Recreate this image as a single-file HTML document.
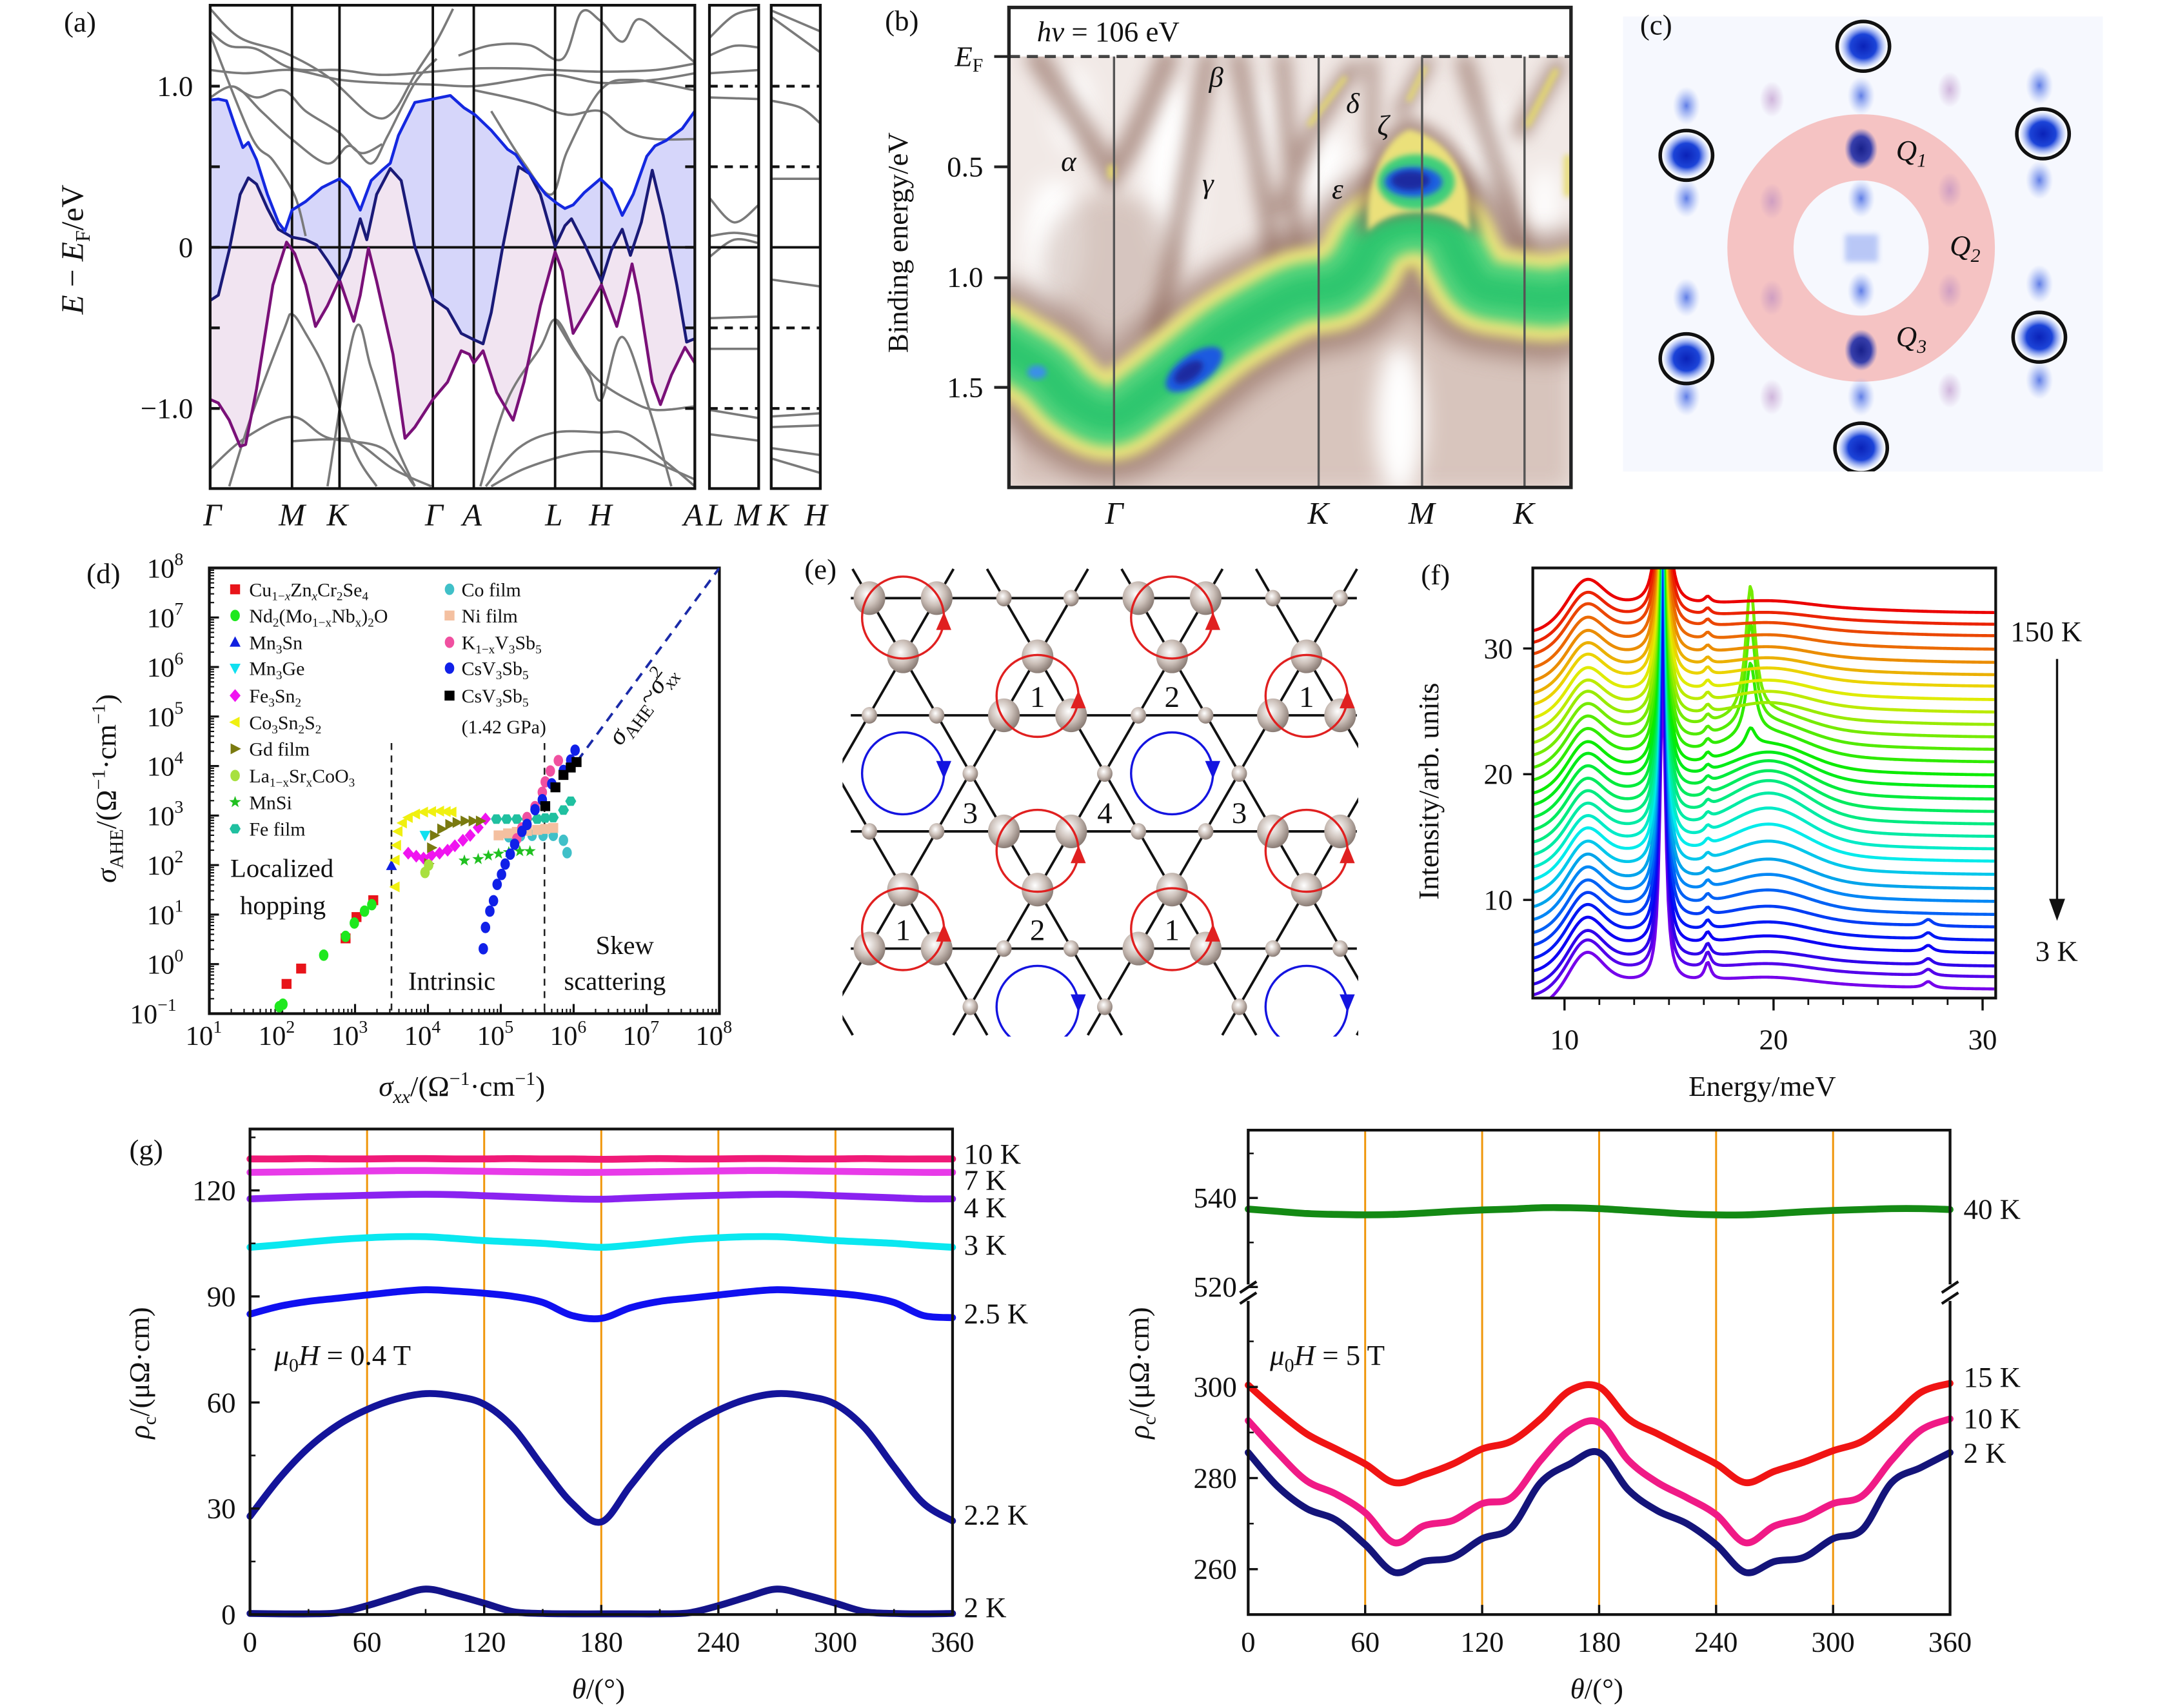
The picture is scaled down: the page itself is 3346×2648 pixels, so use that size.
<!DOCTYPE html>
<html><head><meta charset="utf-8"><title>Kagome figure</title>
<style>
html,body{margin:0;padding:0;background:#fff}
svg{display:block}
text{font-family:"Liberation Serif","DejaVu Serif",serif;fill:#111}
.it{font-style:italic}
</style></head>
<body>
<svg id="fig" width="3346" height="2648" viewBox="0 0 1565 1239" preserveAspectRatio="none" xmlns="http://www.w3.org/2000/svg">
<defs>
 <radialGradient id="sph" cx="0.42" cy="0.38" r="0.62"><stop offset="0" stop-color="#ffffff"/><stop offset="0.55" stop-color="#cbbfb8"/><stop offset="1" stop-color="#8a7c75"/></radialGradient>
 <radialGradient id="bdot"><stop offset="0" stop-color="#0a22b8"/><stop offset="0.55" stop-color="#1c44d8"/><stop offset="1" stop-color="#6d8ef0" stop-opacity="0"/></radialGradient>
 <radialGradient id="sdot"><stop offset="0" stop-color="#3a5fe0" stop-opacity="0.8"/><stop offset="0.5" stop-color="#6a88ec" stop-opacity="0.45"/><stop offset="1" stop-color="#9ab0f4" stop-opacity="0"/></radialGradient>
 <radialGradient id="ddot"><stop offset="0" stop-color="#18208a"/><stop offset="0.6" stop-color="#2230a8" stop-opacity="0.9"/><stop offset="1" stop-color="#4050c0" stop-opacity="0"/></radialGradient>
 <radialGradient id="pdot"><stop offset="0" stop-color="#b080c0" stop-opacity="0.55"/><stop offset="1" stop-color="#b080c0" stop-opacity="0"/></radialGradient>
 <filter id="bl2" x="-20%" y="-20%" width="140%" height="140%"><feGaussianBlur stdDeviation="2"/></filter>
 <filter id="bl4" x="-30%" y="-30%" width="160%" height="160%"><feGaussianBlur stdDeviation="4"/></filter>
 <filter id="bl6" x="-40%" y="-40%" width="180%" height="180%"><feGaussianBlur stdDeviation="6"/></filter>
 <filter id="bl8" x="-50%" y="-50%" width="200%" height="200%"><feGaussianBlur stdDeviation="8"/></filter>
 <clipPath id="clipA"><rect x="152.4" y="3.8" width="351.5" height="350.6"/></clipPath>
 <clipPath id="clipAL"><rect x="514.5" y="3.8" width="35.7" height="350.6"/></clipPath>
 <clipPath id="clipAR"><rect x="559.3" y="3.8" width="35.6" height="350.6"/></clipPath>
 <clipPath id="clipB"><rect x="731.7" y="5.4" width="407.6" height="348.2"/></clipPath>
 <clipPath id="clipBi"><rect x="731.7" y="41" width="407.6" height="312.6"/></clipPath>
 <clipPath id="clipC"><rect x="1177" y="12" width="348" height="330"/></clipPath>
 <clipPath id="clipD"><rect x="151.8" y="412" width="369.9" height="323.3"/></clipPath>
 <clipPath id="clipE"><rect x="611" y="412" width="374" height="340"/></clipPath>
 <clipPath id="clipF"><rect x="1111.6" y="412" width="335.7" height="312"/></clipPath>
</defs>

<!-- ================= PANEL A ================= -->
<g id="panel-a">
 <text x="58" y="23" font-size="21" text-anchor="middle">(a)</text>
 <g id="a-plot" clip-path="url(#clipA)"></g>
 <g id="a-side1" clip-path="url(#clipAL)"></g>
 <g id="a-side2" clip-path="url(#clipAR)"></g>
 <g id="a-axes"></g>
 <text transform="translate(60,181) rotate(-90)" font-size="23" text-anchor="middle"><tspan class="it">E</tspan> − <tspan class="it">E</tspan><tspan font-size="15" dy="5">F</tspan><tspan dy="-5">/eV</tspan></text>
</g>

<!-- ================= PANEL B ================= -->
<g id="panel-b">
 <text x="654" y="22" font-size="21" text-anchor="middle">(b)</text>
 <rect x="731.7" y="5.4" width="407.6" height="348.2" fill="#fff"/>
 <g clip-path="url(#clipBi)">
  <rect x="731" y="41" width="410" height="315" fill="#f1e9e6"/>
  <path d="M731,250 L760,265 L806,300 L860,262 L914,226 L968,208 L1000,175 L1030,162 L1060,189 L1100,213 L1140,213 L1140,356 L731,356 Z" fill="#cfb8af" opacity="0.75" filter="url(#bl8)"/>
  <g filter="url(#bl8)" fill="#fff">
   <ellipse cx="850" cy="125" rx="20" ry="65"/>
   <ellipse cx="765" cy="175" rx="22" ry="45"/>
   <ellipse cx="778" cy="80" rx="14" ry="30"/>
   <ellipse cx="1015" cy="305" rx="18" ry="55"/>
   <ellipse cx="962" cy="130" rx="16" ry="40"/>
   <ellipse cx="915" cy="95" rx="10" ry="35"/>
   <ellipse cx="1080" cy="110" rx="14" ry="40"/>
   <ellipse cx="1120" cy="150" rx="10" ry="30"/>
  </g>
  <g fill="none" stroke="#8a6456" stroke-linecap="round" filter="url(#bl6)" opacity="0.6">
   <path d="M752,42 Q790,100 806,127 Q825,100 846.5,42" stroke-width="16"/>
   <path d="M876,42 Q860,140 838.4,243" stroke-width="13"/>
   <path d="M897.7,42 Q915,130 930,221" stroke-width="13"/>
   <path d="M930,42 Q936,120 941,189" stroke-width="11"/>
   <path d="M981,50 Q950,90 930,150" stroke-width="13"/>
   <path d="M995,45 L995,108" stroke-width="9"/>
   <path d="M1035,45 L1016,81" stroke-width="11"/>
   <path d="M1062,45 Q1085,120 1108,194" stroke-width="13"/>
   <path d="M1130,48 L1103,94" stroke-width="13"/>
  </g>
  <ellipse cx="806" cy="195" rx="50" ry="55" fill="#9a7466" opacity="0.3" filter="url(#bl8)"/>
  <ellipse cx="1022" cy="183" rx="20" ry="12" fill="#8a6456" opacity="0.7" filter="url(#bl4)"/>
  <g fill="none" stroke="#e6dc6c" stroke-linecap="round" filter="url(#bl2)" opacity="0.85">
   <path d="M806,122 L806,127" stroke-width="6"/>
   <path d="M975,57 L950,90" stroke-width="4"/>
   <path d="M1033,50 L1022,72" stroke-width="4"/>
   <path d="M1128,52 L1108,90" stroke-width="5"/>
   <path d="M1137,115 L1137,140" stroke-width="6"/>
  </g>
  <g id="b-band" fill="none" stroke-linecap="round" stroke-linejoin="round"></g>
  <g id="b-dome"></g>
 </g>
 <line x1="731.7" y1="41" x2="1139.3" y2="41" stroke="#444" stroke-width="2.2" stroke-dasharray="8,5"/>
 <g stroke="#555" stroke-width="1.6">
  <line x1="807.9" y1="41" x2="807.9" y2="353.6"/>
  <line x1="956.3" y1="41" x2="956.3" y2="353.6"/>
  <line x1="1031.3" y1="41" x2="1031.3" y2="353.6"/>
  <line x1="1105.6" y1="41" x2="1105.6" y2="353.6"/>
 </g>
 <rect x="731.7" y="5.4" width="407.6" height="348.2" fill="none" stroke="#222" stroke-width="2.5"/>
 <g font-size="21">
  <text x="752" y="30"><tspan class="it">hν</tspan> = 106 eV</text>
  <text x="775" y="124" class="it" text-anchor="middle">α</text>
  <text x="882" y="63" class="it" text-anchor="middle">β</text>
  <text x="876" y="140" class="it" text-anchor="middle">γ</text>
  <text x="981" y="82" class="it" text-anchor="middle">δ</text>
  <text x="1003" y="98" class="it" text-anchor="middle">ζ</text>
  <text x="970" y="144" class="it" text-anchor="middle">ε</text>
 </g>
 <g stroke="#222" stroke-width="2">
  <line x1="721" y1="41" x2="731.7" y2="41"/><line x1="721" y1="121" x2="731.7" y2="121"/>
  <line x1="721" y1="201.5" x2="731.7" y2="201.5"/><line x1="721" y1="281" x2="731.7" y2="281"/>
 </g>
 <g font-size="21" text-anchor="end">
  <text x="713" y="48"><tspan class="it">E</tspan><tspan font-size="14" dy="4">F</tspan></text>
  <text x="713" y="128">0.5</text>
  <text x="713" y="208">1.0</text>
  <text x="713" y="288">1.5</text>
 </g>
 <text transform="translate(658,176) rotate(-90)" font-size="21" text-anchor="middle">Binding energy/eV</text>
 <g font-size="23" class="it" text-anchor="middle">
  <text x="808" y="380" class="it">Γ</text>
  <text x="956" y="380" class="it">K</text>
  <text x="1031" y="380" class="it">M</text>
  <text x="1105" y="380" class="it">K</text>
 </g>
</g>

<!-- ================= PANEL C ================= -->
<g id="panel-c">
 <rect x="1177" y="12" width="348" height="330" fill="#f6f8fe"/>
 <g clip-path="url(#clipC)">
  <circle cx="1349.7" cy="179.9" r="73" fill="none" stroke="#f5bcbc" stroke-width="48" opacity="0.9"/>
  <g id="c-dots"></g>
 </g>
 <text x="1201" y="25" font-size="21" text-anchor="middle">(c)</text>
 <g font-size="21" class="it">
  <text x="1375" y="116" class="it">Q<tspan font-size="14" dy="5">1</tspan></text>
  <text x="1414" y="185" class="it">Q<tspan font-size="14" dy="5">2</tspan></text>
  <text x="1375" y="251" class="it">Q<tspan font-size="14" dy="5">3</tspan></text>
 </g>
</g>

<!-- ================= PANEL D ================= -->
<g id="panel-d">
 <text x="75" y="423" font-size="21" text-anchor="middle">(d)</text>
 <g id="d-axes"></g>
 <g id="d-plot" clip-path="url(#clipD)"></g>
 <g id="d-legend"></g>
 <g font-size="19">
  <text x="167" y="636">Localized</text>
  <text x="174" y="663">hopping</text>
  <text x="296" y="718">Intrinsic</text>
  <text x="432" y="692">Skew</text>
  <text x="409" y="718">scattering</text>
 </g>
 <text transform="translate(470,515) rotate(-53)" font-size="19" text-anchor="middle"><tspan class="it">σ</tspan><tspan font-size="13" dy="4">AHE</tspan><tspan dy="-4">~</tspan><tspan class="it">σ</tspan><tspan font-size="13" dy="-8">2</tspan><tspan font-size="13" dx="-7" dy="13" class="it">xx</tspan></text>
 <text transform="translate(84,572) rotate(-90)" font-size="21" text-anchor="middle"><tspan class="it">σ</tspan><tspan font-size="14" dy="5">AHE</tspan><tspan dy="-5">/(Ω</tspan><tspan font-size="14" dy="-8">−1</tspan><tspan dy="8">·cm</tspan><tspan font-size="14" dy="-8">−1</tspan><tspan dy="8">)</tspan></text>
 <text x="335" y="795" font-size="21" text-anchor="middle"><tspan class="it">σ</tspan><tspan font-size="14" dy="5" class="it">xx</tspan><tspan dy="-5">/(Ω</tspan><tspan font-size="14" dy="-8">−1</tspan><tspan dy="8">·cm</tspan><tspan font-size="14" dy="-8">−1</tspan><tspan dy="8">)</tspan></text>
</g>

<!-- ================= PANEL E ================= -->
<g id="panel-e">
 <text x="595" y="420" font-size="21" text-anchor="middle">(e)</text>
 <g id="e-lat" clip-path="url(#clipE)"></g>
</g>

<!-- ================= PANEL F ================= -->
<g id="panel-f">
 <text x="1041" y="424" font-size="21" text-anchor="middle">(f)</text>
 <g id="f-plot" clip-path="url(#clipF)"></g>
 <g id="f-axes"></g>
 <text x="1458" y="465" font-size="21">150 K</text>
 <text x="1476" y="697" font-size="21">3 K</text>
 <line x1="1491.8" y1="478" x2="1491.8" y2="660" stroke="#111" stroke-width="1.6"/>
 <polygon points="1486,652 1497.6,652 1491.8,668" fill="#111"/>
 <text transform="translate(1043,574) rotate(-90)" font-size="21" text-anchor="middle">Intensity/arb. units</text>
 <text x="1278" y="795" font-size="21" text-anchor="middle">Energy/meV</text>
</g>

<!-- ================= PANEL G ================= -->
<g id="panel-g">
 <text x="106" y="841" font-size="21" text-anchor="middle">(g)</text>
 <g id="g-left"></g>
 <g id="g-right"></g>
 <text x="199" y="990" font-size="21"><tspan class="it">μ</tspan><tspan font-size="14" dy="5">0</tspan><tspan class="it" dy="-5">H</tspan> = 0.4 T</text>
 <text x="921" y="990" font-size="21"><tspan class="it">μ</tspan><tspan font-size="14" dy="5">0</tspan><tspan class="it" dy="-5">H</tspan> = 5 T</text>
 <text transform="translate(108,996) rotate(-90)" font-size="21" text-anchor="middle"><tspan class="it">ρ</tspan><tspan font-size="14" dy="5">c</tspan><tspan dy="-5">/(μΩ·cm)</tspan></text>
 <text transform="translate(833,996) rotate(-90)" font-size="21" text-anchor="middle"><tspan class="it">ρ</tspan><tspan font-size="14" dy="5">c</tspan><tspan dy="-5">/(μΩ·cm)</tspan></text>
 <text x="434" y="1232" font-size="21" text-anchor="middle"><tspan class="it">θ</tspan>/(°)</text>
 <text x="1158" y="1232" font-size="21" text-anchor="middle"><tspan class="it">θ</tspan>/(°)</text>
</g>
</svg>

<script>
// ================= DATA =================
// Panel (a): k-path coordinate (0..888 along Γ-M-K-Γ-A-L-H-A), energy in eV
const aBlueK = [0,15,30,45,60,70,85,105,125,137,150,175,205,237,255,275,295,315,330,345,375,408,440,465,485,515,545,560,575,595,615,635,650,665,685,715,735,755,775,800,815,835,865,888];
const aBlueE = [0.914,0.92,0.909,0.759,0.619,0.651,0.543,0.328,0.155,0.101,0.231,0.284,0.371,0.425,0.371,0.231,0.414,0.478,0.522,0.694,0.899,0.92,0.942,0.866,0.823,0.726,0.608,0.575,0.5,0.414,0.328,0.274,0.241,0.263,0.338,0.425,0.36,0.198,0.328,0.565,0.629,0.662,0.737,0.845];
const aNavyK = [0,15,35,55,70,85,105,125,150,175,195,215,237,255,275,287,305,330,350,375,408,435,460,483,500,515,535,565,585,605,632,650,662,685,717,735,755,770,790,810,830,855,873,888];
const aNavyE = [-0.33,-0.297,-0.017,0.328,0.431,0.392,0.241,0.112,0.063,0.047,0.015,-0.082,-0.2,-0.06,0.177,0.047,0.328,0.489,0.414,0.004,-0.319,-0.384,-0.534,-0.573,-0.599,-0.405,-0.017,0.5,0.457,0.328,0.004,0.134,0.177,0.026,-0.211,-0.017,0.112,-0.05,0.155,0.478,0.198,-0.233,-0.588,-0.567];
const aPurpK = [0,15,35,55,65,85,115,140,155,175,193,215,237,263,275,290,305,335,357,375,408,435,460,475,483,500,525,555,575,605,632,645,665,695,717,745,760,773,785,810,825,845,870,888];
const aPurpE = [-0.944,-0.966,-1.073,-1.235,-1.224,-0.879,-0.233,0.032,-0.039,-0.233,-0.491,-0.362,-0.2,-0.459,-0.297,-0.006,-0.211,-0.664,-1.185,-1.116,-0.944,-0.836,-0.642,-0.664,-0.718,-0.642,-0.901,-1.073,-0.836,-0.362,-0.028,-0.147,-0.534,-0.362,-0.233,-0.491,-0.297,-0.103,-0.297,-0.836,-0.976,-0.793,-0.621,-0.718];
const aHighSymK = [150,237,408,483,632,717];
const aGrayBands = [
 [[0,1.34],[35,1.25],[85,1.23],[150,1.11],[237,1.1],[315,1.07],[408,1.09],[483,1.11],[565,1.11],[632,1.1],[717,1.09],[815,1.1],[888,1.14]],
 [[0,1.1],[65,1.08],[150,1.1],[237,1.04],[315,1.02],[408,1.01],[483,1.0],[565,1.04],[632,1.07],[717,1.02],[815,1.04],[888,1.08]],
 [[0,1.48],[55,1.3],[135,1.21],[215,1.06],[295,0.82],[335,0.84],[375,1.07],[415,1.28],[445,1.48]],
 [[0,0.93],[45,0.996],[95,0.84],[150,0.67],[215,0.52],[255,0.63],[295,0.52],[325,0.69],[375,1.02],[415,1.17]],
 [[0,1.32],[75,0.69],[115,0.54],[155,0.32],[175,0.07]],
 [[45,0.996],[85,0.93],[135,0.974],[175,0.845],[235,0.716],[275,0.586],[315,0.64]],
 [[455,1.19],[515,1.254],[585,1.254],[645,1.168],[680,1.459],[715,1.405],[755,1.276],[785,1.416],[835,1.297],[888,1.147]],
 [[485,0.974],[545,0.931],[595,0.888],[655,0.823],[715,0.845],[765,0.716],[815,0.672],[888,0.672]],
 [[515,0.845],[575,0.522],[625,0.328],[655,0.603],[715,0.974],[775,1.039],[888,0.974]],
 [[35,-1.483],[75,-1.052],[135,-0.513],[150,-0.416],[175,-0.534],[215,-0.793],[265,-1.267],[305,-1.483]],
 [[215,-1.483],[265,-0.513],[295,-0.75],[335,-1.181],[375,-1.483]],
 [[0,-1.375],[65,-1.181],[150,-1.052],[215,-1.181],[315,-1.246],[375,-1.483]],
 [[150,-1.203],[215,-1.192],[265,-1.203],[335,-1.375],[405,-1.483]],
 [[495,-1.483],[545,-0.944],[605,-0.621],[632,-0.448],[665,-0.621],[695,-0.793],[717,-0.944],[755,-0.556],[805,-1.009],[845,-1.483]],
 [[505,-1.483],[565,-1.246],[632,-1.149],[715,-1.149],[765,-1.16],[835,-1.332],[888,-1.483]],
 [[515,-1.483],[575,-1.375],[655,-1.289],[715,-1.267],[795,-1.311],[888,-1.44]],
 [[632,-0.448],[675,-0.685],[715,-0.836],[765,-0.944],[815,-1.009],[888,-0.987]]
];
const aSide1 = [[[0,1.3],[0.5,1.44],[1,1.48]],[[0,1.19],[0.5,1.25],[1,1.24]],[[0,1.08],[1,1.1]],[[0,0.93],[1,0.92]],[[0,0.306],[0.5,0.155],[1,0.263]],[[0,0.069],[0.5,0.09],[1,0.069]],[[0,-0.06],[0.5,0.047],[1,0.026]],[[0,-0.44],[1,-0.43]],[[0,-0.63],[1,-0.63]],[[0,-1.009],[1,-1.06]],[[0,-1.16],[1,-1.2]]];
const aSide2 = [[[0,1.47],[1,1.34]],[[0,1.43],[1,1.21]],[[0,0.91],[0.6,0.866],[1,0.769]],[[0,0.425],[1,0.425]],[[0,-0.2],[1,-0.243]],[[0,-1.05],[1,-1.03]],[[0,-1.116],[1,-1.105]],[[0,-1.246],[1,-1.289]],[[0,-1.31],[1,-1.4]]];

// Panel (d): log10 values
const dSeries = [
 {name:'Cu1-xZnxCr2Se4', shape:'square', color:'#e8141a', lx:[2.06,2.26,2.87,3.02,3.25], ly:[-0.4,-0.09,0.52,0.95,1.29]},
 {name:'Nd2(Mo1-xNbx)2O', shape:'circle', color:'#1ee81e', lx:[1.96,2.01,2.57,2.87,2.99,3.13,3.23], ly:[-0.86,-0.81,0.18,0.56,0.83,1.07,1.2]},
 {name:'Mn3Sn', shape:'tri', color:'#1020e0', lx:[3.5], ly:[1.99]},
 {name:'Mn3Ge', shape:'dtri', color:'#10e0f0', lx:[3.96], ly:[2.6]},
 {name:'Fe3Sn2', shape:'diamond', color:'#f014f0', lx:[3.73,3.84,3.94,4.05,4.16,4.27,4.37,4.48,4.58,4.69,4.79], ly:[2.24,2.18,2.14,2.2,2.24,2.3,2.39,2.5,2.6,2.76,2.93]},
 {name:'Co3Sn2S2', shape:'ltri', color:'#f0f010', lx:[3.55,3.55,3.57,3.59,3.65,3.73,3.83,3.94,4.05,4.16,4.25,4.33], ly:[1.56,2.1,2.4,2.68,2.85,2.96,3.03,3.07,3.08,3.09,3.08,3.07]},
 {name:'Gd film', shape:'rtri', color:'#7a7a10', lx:[4.01,4.05,4.09,4.19,4.3,4.4,4.51,4.62,4.72], ly:[2.03,2.35,2.6,2.73,2.82,2.86,2.89,2.89,2.89]},
 {name:'La1-xSrxCoO3', shape:'circle', color:'#a8e040', lx:[3.96,4.01], ly:[1.85,2.0]},
 {name:'MnSi', shape:'star', color:'#20c020', lx:[4.5,4.69,4.83,4.97,5.11,5.26,5.4], ly:[2.09,2.12,2.19,2.23,2.26,2.28,2.28]},
 {name:'Fe film', shape:'hex', color:'#20c0a0', lx:[4.94,5.08,5.22,5.36,5.5,5.61,5.72,5.86,5.96], ly:[2.93,2.93,2.93,2.93,2.93,2.95,2.96,3.11,3.29]},
 {name:'Co film', shape:'circle', color:'#40c0c8', lx:[5.11,5.27,5.43,5.58,5.72,5.86,5.91], ly:[2.57,2.59,2.6,2.6,2.6,2.5,2.25]},
 {name:'Ni film', shape:'square', color:'#f4c0a0', lx:[4.97,5.1,5.22,5.36,5.5,5.61,5.72], ly:[2.6,2.64,2.67,2.69,2.71,2.73,2.75]},
 {name:'K1-xV3Sb5', shape:'circle', color:'#f050a0', lx:[5.22,5.29,5.36,5.47,5.57,5.61,5.68,5.79], ly:[2.53,2.75,2.96,3.18,3.47,3.68,3.9,4.11]},
 {name:'CsV3Sb5', shape:'circle', color:'#1020e8', lx:[4.76,4.79,4.85,4.9,4.95,5.01,5.06,5.13,5.19,5.29,5.36,5.47,5.57,5.7,5.86,5.96,6.02], ly:[0.31,0.74,1.07,1.28,1.61,1.81,2.02,2.22,2.42,2.68,2.82,3.12,3.32,3.64,3.91,4.12,4.32]},
 {name:'CsV3Sb5 (1.42 GPa)', shape:'square', color:'#000000', lx:[5.61,5.75,5.86,5.96,6.04], ly:[3.19,3.57,3.82,3.97,4.08]}
];
const dXTicks = [1,2,3,4,5,6,7,8];
const dYTicks = [-1,0,1,2,3,4,5,6,7,8];
const dRegimeBounds = [3.5,5.6];

// Panel (f): one entry per temperature curve, bottom (3 K) to top (150 K)
const fRight = [3.14,4.12,4.97,6.02,7.03,8.08,9.07,10.11,11.13,12.26,13.31,14.29,15.28,16.27,17.26,18.25,19.24,20.17,21.21,22.2,23.19,24.18,25.17,26.16,27.23,28.14,29.12,30.17,31.24,32.15,33.08];
const fPeak11 = [2.6,2.6,2.5,2.5,2.5,2.4,2.4,2.4,2.4,2.3,2.3,2.3,2.3,2.3,2.3,2.3,2.3,2.3,2.3,2.3,2.3,2.3,2.2,2.2,2.2,2.2,2.2,2.2,2.2,2.2,2.3];
const fPeak147 = [24,26,28,30,32,34,36,36,36,36,36,36,36,36,36,36,36,36,36,36,36,36,36,36,36,36,36,36,36,36,36];
const fPeak17 = [1.4,1.2,1.0,0.8,0.7,0.6,0.6,0.6,0.5,0.5,0.5,0.5,0.5,0.5,0.5,0.5,0.5,0.6,0.6,0.6,0.6,0.6,0.6,0.6,0.6,0.5,0.5,0.5,0.5,0.5,0.5];
const fHump20 = [0.5,0.6,0.7,0.9,1.0,1.2,1.5,1.7,1.9,2.2,2.5,2.8,3.0,3.0,2.8,2.6,2.3,2.0,1.8,1.6,1.4,1.3,1.2,1.1,1.0,0.9,0.8,0.7,0.6,0.5,0.5];
const fSharp19 = [0,0,0,0,0,0,0,0,0,0,0,0,0,0,0,0,0,1.5,5.8,8.2,10.3,0,0,0,0,0,0,0,0,0,0];
const fXTicks = [10,20,30];
const fYTicks = [10,20,30];

// Panel (g) left, 0.4 T
const gAngles = [0,15,30,45,60,75,90,105,120,135,150,165,180,195,210,225,240,255,270,285,300,315,330,345,360];
const gL10K = [128.9,128.9,129,128.9,128.9,129,129,128.9,128.9,129,128.9,128.9,128.8,128.9,129,128.9,128.9,129,129,128.9,128.9,129,128.9,128.9,128.9];
const gL7K  = [125.1,125.2,125.3,125.4,125.5,125.6,125.6,125.5,125.4,125.3,125.2,125.1,125.1,125.2,125.3,125.4,125.5,125.6,125.6,125.5,125.4,125.3,125.2,125.1,125.1];
const gL4K  = [117.6,117.9,118.2,118.4,118.6,118.8,118.9,118.8,118.5,118.2,117.9,117.6,117.5,117.8,118.1,118.4,118.6,118.8,118.9,118.8,118.5,118.2,117.9,117.6,117.6];
const gL3K  = [103.9,104.6,105.4,106.1,106.6,106.9,106.9,106.4,105.8,105.4,105,104.4,103.9,104.5,105.3,106.1,106.6,106.9,106.9,106.4,105.8,105.4,105,104.4,103.9];
const gL25K = [85,87.2,88.6,89.5,90.4,91.3,91.9,91.5,90.9,90,88.3,84.6,83.8,86.8,88.6,89.5,90.4,91.3,91.9,91.5,90.9,90,88.3,84.6,84];
const gL22K = [27.8,38.5,47.2,53.6,58,61,62.5,61.8,59.5,52.8,41.8,31.5,26.2,36.5,46.5,53.2,57.8,61,62.5,61.8,59.5,52.8,41.8,31.5,26.5];
const gL2K  = [0.3,0.2,0.2,0.5,2.5,5,7.2,5.5,3.2,0.8,0.3,0.2,0.2,0.2,0.2,0.5,2.5,5,7.2,5.5,3.2,0.8,0.3,0.2,0.3];
const gLTempLabels = ['10 K','7 K','4 K','3 K','2.5 K','2.2 K','2 K'];
const gLYTicks = [0,30,60,90,120];
const gXTicks = [0,60,120,180,240,300,360];
// Panel (g) right, 5 T
const gR40K = [537.5,537,536.5,536.3,536.2,536.3,536.6,537,537.3,537.5,537.8,537.8,537.6,537.2,536.8,536.4,536.2,536.2,536.5,536.9,537.2,537.4,537.6,537.6,537.4];
const gR15K = [300.4,294.7,289.7,286.4,283.1,279,280.7,283.1,286.4,288.1,293,299.2,300,293,289.7,286.4,283.1,279,281.5,283.5,286,288.1,293,298.8,300.8];
const gR10K = [292.6,285.6,279.4,276.5,272.4,265.8,269.5,270.7,274.4,275.7,283.9,290.5,292.2,283.9,279,275.7,272,265.8,269.5,271.2,274.4,276.1,283.9,290.5,293];
const gR2K  = [285.6,278.2,273.3,270.8,265.4,259.3,261.7,262.6,266.7,269.1,279,283.1,285.6,277.4,272.8,270,265.4,259.3,261.7,262.6,266.7,268.7,279,282.3,285.6];
const gRUpperTicks = [520,540];
const gRLowerTicks = [260,280,300];

// ================= HELPERS =================
const NS = 'http://www.w3.org/2000/svg';
function mk(tag, attrs, parent) {
  const e = document.createElementNS(NS, tag);
  for (const k in attrs) e.setAttribute(k, attrs[k]);
  parent.appendChild(e);
  return e;
}
function ptsStr(p) { return p.map(q => q[0].toFixed(2) + ',' + q[1].toFixed(2)).join(' '); }
function smooth(p) {
  if (p.length < 2) return '';
  let d = 'M' + p[0][0].toFixed(2) + ',' + p[0][1].toFixed(2);
  for (let i = 0; i < p.length - 1; i++) {
    const p0 = p[i - 1] || p[i], p1 = p[i], p2 = p[i + 1], p3 = p[i + 2] || p2;
    const c1 = [p1[0] + (p2[0] - p0[0]) / 6, p1[1] + (p2[1] - p0[1]) / 6];
    const c2 = [p2[0] - (p3[0] - p1[0]) / 6, p2[1] - (p3[1] - p1[1]) / 6];
    d += ' C' + c1[0].toFixed(2) + ',' + c1[1].toFixed(2) + ' ' + c2[0].toFixed(2) + ',' + c2[1].toFixed(2) + ' ' + p2[0].toFixed(2) + ',' + p2[1].toFixed(2);
  }
  return d;
}
const $ = id => document.getElementById(id);

// ================= PANEL A =================
(function () {
  const x0 = 152.4, x1 = 503.9, yTop = 3.8, yBot = 354.4;
  const xA = k => x0 + k * (x1 - x0) / 888;
  const yA = E => 179.4 - E * 116.9;
  const g = $('a-plot');
  const blue = aBlueK.map((k, i) => [xA(k), yA(aBlueE[i])]);
  const navy = aNavyK.map((k, i) => [xA(k), yA(aNavyE[i])]);
  const purp = aPurpK.map((k, i) => [xA(k), yA(aPurpE[i])]);
  let f = mk('polygon', {points: ptsStr(blue.concat(navy.slice().reverse())), fill: '#d6d6fa'}, g);
  
  
  f = mk('polygon', {points: ptsStr(navy.concat(purp.slice().reverse())), fill: '#f1e4f1'}, g);
  
  
  aGrayBands.forEach((b) => {
    const p = mk('path', {d: smooth(b.map(q => [xA(q[0]), yA(q[1])])), fill: 'none', stroke: '#7a7a7a', 'stroke-width': 1.7}, g);
    
    
  });
  let z = mk('line', {x1: x0, y1: yA(0), x2: x1, y2: yA(0), stroke: '#111', 'stroke-width': 1.8}, g);
  
  
  aHighSymK.forEach(k => {
    const l = mk('line', {x1: xA(k), y1: yTop, x2: xA(k), y2: yBot, stroke: '#111', 'stroke-width': 1.8}, g);
    
    
  });
  [[purp, '#7a1078', 'purple-band'], [navy, '#1a1a78', 'navy-band'], [blue, '#1428e0', 'blue-band']].forEach(s => {
    const p = mk('polyline', {points: ptsStr(s[0]), fill: 'none', stroke: s[1], 'stroke-width': 2.1, 'stroke-linejoin': 'round'}, g);
    
    
  });
  [[$('a-side1'), 514.5, 550.2, aSide1], [$('a-side2'), 559.3, 594.9, aSide2]].forEach(sp => {
    const [gg, sx0, sx1, arr] = sp;
    arr.forEach(b => {
      const p = mk('path', {d: smooth(b.map(q => [sx0 + q[0] * (sx1 - sx0), yA(q[1])])), fill: 'none', stroke: '#7a7a7a', 'stroke-width': 1.7}, gg);
      
      
    });
    const zl = mk('line', {x1: sx0, y1: yA(0), x2: sx1, y2: yA(0), stroke: '#111', 'stroke-width': 1.8}, gg);
    
    
    [1, 0.5, -0.5, -1].forEach(E => {
      const dl = mk('line', {x1: sx0, y1: yA(E), x2: sx1, y2: yA(E), stroke: '#111', 'stroke-width': 2, 'stroke-dasharray': '6,5'}, gg);
      
      
    });
  });
  const ax = $('a-axes');
  [[x0, x1], [514.5, 550.2], [559.3, 594.9]].forEach(r => {
    const fr = mk('rect', {x: r[0], y: yTop, width: r[1] - r[0], height: yBot - yTop, fill: 'none', stroke: '#111', 'stroke-width': 2}, ax);
    
    
  });
  [[1, '1.0'], [0.5, null], [0, '0'], [-0.5, null], [-1, '−1.0']].forEach(t => {
    const l1 = mk('line', {x1: x0, y1: yA(t[0]), x2: x0 + 7, y2: yA(t[0]), stroke: '#111', 'stroke-width': 2}, ax);
    
    
    const l2 = mk('line', {x1: x1 - 7, y1: yA(t[0]), x2: x1, y2: yA(t[0]), stroke: '#111', 'stroke-width': 2}, ax);
    
    
    if (t[1]) {
      const tx = mk('text', {x: 140, y: yA(t[0]) + 7, 'font-size': 21, 'text-anchor': 'end'}, ax);
      tx.textContent = t[1];
      
      
    }
  });
  const kl = [['Γ', 154], ['M', 211.7], ['K', 244.6], ['Γ', 314.7], ['A', 342.4], ['L', 401.7], ['H', 435.4], ['A', 502.7], ['L', 518.5], ['M', 542.2], ['K', 564], ['H', 591.7]];
  kl.forEach(k => {
    const t = mk('text', {x: k[1], y: 381, 'font-size': 23, 'text-anchor': 'middle', 'font-style': 'italic'}, ax);
    t.textContent = k[0];
    
    
  });
})();

// ================= PANEL B band =================
(function () {
  const band = [[735.8,256.4],[757.4,269.9],[779,291.5],[806,302.3],[833,286],[860,264.5],[887,243],[914,226.7],[941,213.2],[968,207.8],[984,194.3],[995,175.4],[1011,164.6],[1030,162],[1049,168.7],[1059.7,189],[1073,207.8],[1097.5,213.2],[1124.5,216],[1139,213]];
  const g = $('b-band');
  const d = smooth([[725,250]].concat(band).concat([[1150,212]]));
  [['#8a6456', 92, 0.6, 'url(#bl8)'], ['#e9e27a', 64, 1, 'url(#bl4)'], ['#4fd27a', 42, 1, 'url(#bl4)'], ['#22c26a', 20, 0.7, 'url(#bl4)']].forEach(s => {
    const p = mk('path', {d: d, stroke: s[0], 'stroke-width': s[1], opacity: s[2], filter: s[3]}, g);
    
    
  });
  const dm = $('b-dome');
  const dome = 'M992,165 C990,130 1005,100 1022,94 C1040,98 1058,112 1064,140 L1066,168 C1050,150 1010,148 992,168 Z';
  let e = mk('path', {d: dome, fill: '#8a6456', opacity: 0.6, filter: 'url(#bl4)', transform: 'translate(1028,140) scale(1.2) translate(-1028,-140)'}, dm);
   
  e = mk('path', {d: dome, fill: '#ebe07a', filter: 'url(#bl2)'}, dm);
   
  e = mk('ellipse', {cx: 1027, cy: 132, rx: 28, ry: 20, fill: '#3fcf7a', filter: 'url(#bl2)'}, dm);
   
  e = mk('ellipse', {cx: 1025, cy: 132, rx: 21, ry: 11, fill: '#1a60e0', filter: 'url(#bl2)'}, dm);
   
  e = mk('ellipse', {cx: 1023, cy: 131, rx: 14, ry: 7, fill: '#1a2aa0', filter: 'url(#bl2)'}, dm);
   
  e = mk('ellipse', {cx: 866, cy: 268, rx: 24, ry: 11, fill: '#1a5ae0', transform: 'rotate(-35 866 268)', filter: 'url(#bl2)'}, dm);
   
  e = mk('ellipse', {cx: 862, cy: 270, rx: 12, ry: 6, fill: '#1a2aa0', transform: 'rotate(-35 862 270)', filter: 'url(#bl2)'}, dm);
   
  e = mk('ellipse', {cx: 752, cy: 270, rx: 7, ry: 5, fill: '#3a90e8', filter: 'url(#bl2)'}, dm);
   
})();

// ================= PANEL C =================
(function () {
  const g = $('c-dots');
  const faint = [[1223,76.7],[1223,143.9],[1223,215.8],[1223,287.8],[1479,62],[1479,130.7],[1479,206],[1479,275.8],[1349.7,69.5],[1349.7,143.9],[1349.7,211],[1349.7,287.8]];
  faint.forEach(p => {
    const e = mk('ellipse', {cx: p[0], cy: p[1], rx: 10, ry: 14, fill: 'url(#sdot)'}, g);
    
    
  });
  const lt = [[1285,72],[1285,146],[1285,216],[1285,288],[1414,65],[1414,138],[1414,211],[1414,283]];
  lt.forEach(p => {
    const e = mk('ellipse', {cx: p[0], cy: p[1], rx: 9, ry: 13, fill: 'url(#pdot)'}, g);
    
    
  });
  let e = mk('rect', {x: 1338, y: 170, width: 24, height: 20, fill: '#7d98f0', opacity: 0.5, filter: 'url(#bl2)'}, g);
   
  [[1349.7,108],[1349.7,254]].forEach(p => {
    const d = mk('ellipse', {cx: p[0], cy: p[1], rx: 12, ry: 15, fill: 'url(#ddot)'}, g);
    
    
  });
  const bragg = [[1351.3,33.6],[1223,112.7],[1481.6,97.1],[1223,260.2],[1478.9,244.6],[1349.7,325]];
  bragg.forEach(p => {
    const d = mk('ellipse', {cx: p[0], cy: p[1], rx: 17, ry: 16, fill: 'url(#bdot)'}, g);
    
    
    const c = mk('ellipse', {cx: p[0], cy: p[1], rx: 19, ry: 18, fill: 'none', stroke: '#111', 'stroke-width': 2.6}, g);
    
    
  });
})();

// ================= PANEL D =================
(function () {
  const X0 = 151.8, X1 = 521.7, Y0 = 735.3, Y1 = 412;
  const xD = lx => X0 + (lx - 1) * (X1 - X0) / 7;
  const yD = ly => Y0 - (ly + 1) * (Y0 - Y1) / 9;
  const ax = $('d-axes');
  const fr = mk('rect', {x: X0, y: Y1, width: X1 - X0, height: Y0 - Y1, fill: 'none', stroke: '#111', 'stroke-width': 2}, ax);
  
  
  dXTicks.forEach(v => {
    const l = mk('line', {x1: xD(v), y1: Y0, x2: xD(v), y2: Y0 - 7, stroke: '#111', 'stroke-width': 1.5}, ax);
    
    
    if (v < 8) for (let m = 2; m < 10; m++) {
      const mm = mk('line', {x1: xD(v + Math.log10(m)), y1: Y0, x2: xD(v + Math.log10(m)), y2: Y0 - 3.5, stroke: '#111', 'stroke-width': 1}, ax);
      
      
    }
    const t = mk('text', {x: xD(v) - 4, y: 758, 'font-size': 20, 'text-anchor': 'middle'}, ax);
    t.innerHTML = '10<tspan font-size="13" dy="-9">' + v + '</tspan>';
    
    
  });
  dYTicks.forEach(v => {
    const l = mk('line', {x1: X0, y1: yD(v), x2: X0 + 7, y2: yD(v), stroke: '#111', 'stroke-width': 1.5}, ax);
    
    
    if (v < 8) for (let m = 2; m < 10; m++) {
      const mm = mk('line', {x1: X0, y1: yD(v + Math.log10(m)), x2: X0 + 3.5, y2: yD(v + Math.log10(m)), stroke: '#111', 'stroke-width': 1}, ax);
      
      
    }
    const t = mk('text', {x: v < 0 ? 128 : 133, y: yD(v) + 7, 'font-size': 20, 'text-anchor': 'end'}, ax);
    t.innerHTML = '10<tspan font-size="13" dy="-9">' + (v < 0 ? '−1' : v) + '</tspan>';
    
    
  });
  const g = $('d-plot');
  dRegimeBounds.forEach(b => {
    const l = mk('line', {x1: xD(b), y1: 539, x2: xD(b), y2: Y0, stroke: '#222', 'stroke-width': 1.2, 'stroke-dasharray': '5,4'}, g);
    
    
  });
  const sl = mk('line', {x1: xD(6.05), y1: yD(2 * 6.05 - 8), x2: xD(8), y2: yD(8), stroke: '#1a2aa8', 'stroke-width': 1.8, 'stroke-dasharray': '7,5'}, g);
  
  
  function marker(par, shape, x, y, c, s) {
    let e;
    if (shape === 'square') e = mk('rect', {x: x - s, y: y - s, width: 2 * s, height: 2 * s, fill: c}, par);
    else if (shape === 'circle') e = mk('ellipse', {cx: x, cy: y, rx: s * 0.95, ry: s * 1.15, fill: c}, par);
    else if (shape === 'tri') e = mk('polygon', {points: `${x},${y - s * 1.2} ${x + s * 1.1},${y + s * 0.9} ${x - s * 1.1},${y + s * 0.9}`, fill: c}, par);
    else if (shape === 'dtri') e = mk('polygon', {points: `${x},${y + s * 1.2} ${x + s * 1.1},${y - s * 0.9} ${x - s * 1.1},${y - s * 0.9}`, fill: c}, par);
    else if (shape === 'ltri') e = mk('polygon', {points: `${x - s * 1.2},${y} ${x + s * 0.9},${y - s * 1.1} ${x + s * 0.9},${y + s * 1.1}`, fill: c}, par);
    else if (shape === 'rtri') e = mk('polygon', {points: `${x + s * 1.2},${y} ${x - s * 0.9},${y - s * 1.1} ${x - s * 0.9},${y + s * 1.1}`, fill: c}, par);
    else if (shape === 'diamond') e = mk('polygon', {points: `${x},${y - s * 1.3} ${x + s * 1.1},${y} ${x},${y + s * 1.3} ${x - s * 1.1},${y}`, fill: c}, par);
    else if (shape === 'hex') { let p = []; for (let i = 0; i < 6; i++) p.push((x + s * 1.1 * Math.cos(i * Math.PI / 3)).toFixed(1) + ',' + (y + s * 1.1 * Math.sin(i * Math.PI / 3)).toFixed(1)); e = mk('polygon', {points: p.join(' '), fill: c}, par); }
    else { let p = []; for (let i = 0; i < 10; i++) { const r = i % 2 ? s * 0.5 : s * 1.25; const a = -Math.PI / 2 + i * Math.PI / 5; p.push((x + r * Math.cos(a)).toFixed(1) + ',' + (y + r * Math.sin(a)).toFixed(1)); } e = mk('polygon', {points: p.join(' '), fill: c}, par); }
    return e;
  }
  dSeries.forEach(s => {
    s.lx.forEach((lx, i) => {
      const m = marker(g, s.shape, xD(lx), yD(s.ly[i]), s.color, 3.6);
      
      
    });
  });
  const lg = $('d-legend');
  const leftRows = [427.5,446.5,465.9,484.7,504.6,523.9,543.2,562.6,581.9,601.2];
  const labels = ['Cu<tspan font-size="9" dy="3">1−<tspan font-style="italic">x</tspan></tspan><tspan dy="-3">Zn</tspan><tspan font-size="9" dy="3" font-style="italic">x</tspan><tspan dy="-3">Cr</tspan><tspan font-size="9" dy="3">2</tspan><tspan dy="-3">Se</tspan><tspan font-size="9" dy="3">4</tspan>',
    'Nd<tspan font-size="9" dy="3">2</tspan><tspan dy="-3">(Mo</tspan><tspan font-size="9" dy="3">1−x</tspan><tspan dy="-3">Nb</tspan><tspan font-size="9" dy="3">x</tspan><tspan dy="-3">)</tspan><tspan font-size="9" dy="3">2</tspan><tspan dy="-3">O</tspan>',
    'Mn<tspan font-size="9" dy="3">3</tspan><tspan dy="-3">Sn</tspan>', 'Mn<tspan font-size="9" dy="3">3</tspan><tspan dy="-3">Ge</tspan>',
    'Fe<tspan font-size="9" dy="3">3</tspan><tspan dy="-3">Sn</tspan><tspan font-size="9" dy="3">2</tspan>',
    'Co<tspan font-size="9" dy="3">3</tspan><tspan dy="-3">Sn</tspan><tspan font-size="9" dy="3">2</tspan><tspan dy="-3">S</tspan><tspan font-size="9" dy="3">2</tspan>',
    'Gd film', 'La<tspan font-size="9" dy="3">1−x</tspan><tspan dy="-3">Sr</tspan><tspan font-size="9" dy="3">x</tspan><tspan dy="-3">CoO</tspan><tspan font-size="9" dy="3">3</tspan>',
    'MnSi', 'Fe film', 'Co film', 'Ni film',
    'K<tspan font-size="9" dy="3">1−x</tspan><tspan dy="-3">V</tspan><tspan font-size="9" dy="3">3</tspan><tspan dy="-3">Sb</tspan><tspan font-size="9" dy="3">5</tspan>',
    'CsV<tspan font-size="9" dy="3">3</tspan><tspan dy="-3">Sb</tspan><tspan font-size="9" dy="3">5</tspan>',
    'CsV<tspan font-size="9" dy="3">3</tspan><tspan dy="-3">Sb</tspan><tspan font-size="9" dy="3">5</tspan>'];
  dSeries.forEach((s, i) => {
    const mx = i < 10 ? 170.5 : 326, tx = i < 10 ? 180.7 : 334.7, y = leftRows[i < 10 ? i : i - 10];
    const m = marker(lg, s.shape, mx, y, s.color, 3.6);
    
    
    const t = mk('text', {x: tx, y: y + 5, 'font-size': 14}, lg);
    t.innerHTML = labels[i];
    
    
  });
  const gp = mk('text', {x: 334.7, y: 532, 'font-size': 14}, lg);
  gp.textContent = '(1.42 GPa)';
  
  
})();

// ================= PANEL E =================
(function () {
  const g = $('e-lat');
  const a = 48.77, x0 = 630.5, rows = [433.9, 518.9, 603.1, 688.1];
  const h = a * Math.sqrt(3) / 2;
  const yT = 412.7, yB = 750.9, tan60 = Math.sqrt(3);
  rows.forEach(y => {
    const l = mk('line', {x1: 617, y1: y, x2: 984, y2: y, stroke: '#111', 'stroke-width': 1.8}, g);
    
    
  });
  for (let k = -5; k < 7; k++) {
    const xa = x0 + 2 * a * k;
    const xb = x0 + a + 2 * a * k;
    const l1 = mk('line', {x1: xa + (yT - rows[0]) / tan60, y1: yT, x2: xa + (yB - rows[0]) / tan60, y2: yB, stroke: '#111', 'stroke-width': 1.8}, g);
    
    
    const l2 = mk('line', {x1: xb - (yT - rows[0]) / tan60, y1: yT, x2: xb - (yB - rows[0]) / tan60, y2: yB, stroke: '#111', 'stroke-width': 1.8}, g);
    
    
  }
  const bigRow = [[0,1,4,5],[2,3,6,7],[2,3,6,7],[0,1,4,5]];
  const sites = [];
  rows.forEach((y, r) => { for (let n = 0; n < 8; n++) sites.push([x0 + n * a, y, bigRow[r].includes(n)]); });
  const midY = [rows[0] + h, rows[1] + h, rows[2] + h, rows[3] + h];
  const midX0 = [x0 + a / 2, x0 + 1.5 * a, x0 + a / 2, x0 + 1.5 * a];
  midY.forEach((y, r) => { for (let n = 0; n < 4; n++) sites.push([midX0[r] + 2 * a * n, y, r % 2 === 0]); });
  sites.forEach(s => {
    const c = mk('ellipse', {cx: s[0], cy: s[1], rx: s[2] ? 11.5 : 5.6, ry: s[2] ? 12.2 : 6, fill: 'url(#sph)'}, g);
    
    
  });
  const cy = h / 3;
  const xm = n => x0 + (n + 0.5) * a;
  const red = [[xm(0), rows[0] + cy], [xm(4), rows[0] + cy], [xm(2), rows[1] - cy], [xm(6), rows[1] - cy], [xm(2), rows[2] + cy], [xm(6), rows[2] + cy], [xm(0), rows[3] - cy], [xm(4), rows[3] - cy]];
  red.forEach(p => {
    const c = mk('circle', {cx: p[0], cy: p[1], r: 29.7, fill: 'none', stroke: '#e02020', 'stroke-width': 1.6}, g);
    
    
    const ah = mk('polygon', {points: `${p[0] + 29.7},${p[1] - 4} ${p[0] + 24},${p[1] + 9} ${p[0] + 35},${p[1] + 9}`, fill: '#e02020'}, g);
    
    
  });
  const hy1 = (rows[1] + rows[2]) / 2, hy2 = rows[3] + h;
  const blue = [[xm(0), hy1], [xm(4), hy1], [xm(2), hy2], [xm(6), hy2]];
  blue.forEach(p => {
    const c = mk('circle', {cx: p[0], cy: p[1], r: 29.7, fill: 'none', stroke: '#1414e0', 'stroke-width': 1.6}, g);
    
    
    const ah = mk('polygon', {points: `${p[0] + 29.7},${p[1] + 4} ${p[0] + 24},${p[1] - 9} ${p[0] + 35},${p[1] - 9}`, fill: '#1414e0'}, g);
    
    
  });
  const labs = [['1', xm(2), rows[1] - cy], ['2', xm(4), rows[1] - cy], ['1', xm(6), rows[1] - cy], ['3', xm(1), rows[2] - cy], ['4', xm(3), rows[2] - cy], ['3', xm(5), rows[2] - cy], ['1', xm(0), rows[3] - cy], ['2', xm(2), rows[3] - cy], ['1', xm(4), rows[3] - cy]];
  labs.forEach(l => {
    const t = mk('text', {x: l[1], y: l[2] + 8, 'font-size': 22, 'text-anchor': 'middle'}, g);
    t.textContent = l[0];
    
    
  });
})();

// ================= PANEL F =================
(function () {
  const X0 = 1111.6, X1 = 1447.3, YT = 412, YB = 724;
  const xF = E => 1134.6 + (E - 10) * 15.16;
  const yF = I => 652.8 - (I - 10) * 9.12;
  const g = $('f-plot');
  const lor = (E, c, w) => 1 / (1 + ((E - c) / w) * ((E - c) / w));
  const gau = (E, c, w) => Math.exp(-((E - c) * (E - c)) / (2 * w * w));
  fRight.forEach((R, i) => {
    const pts = [];
    for (let E = 8.4; E <= 30.6; E += 0.08) {
      let I = R - 1.5 * gau(E, 8.2, 1.2) + fPeak11[i] * gau(E, 11, 0.75) + 0.6 * gau(E, 12.3, 1.2) + 0.3 * gau(E, 16, 2)
        + fPeak147[i] * lor(E, 14.7, 0.16) + fPeak17[i] * lor(E, 16.85, 0.18)
        + fHump20[i] * gau(E, 19.8, 1.8) + fSharp19[i] * lor(E, 18.9, 0.28) + 0.4 * gau(E, 21, 4) - 0.25;
      if (i < 6) I += 0.5 * lor(E, 27.4, 0.25);
      pts.push([xF(E), yF(I)]);
    }
    const hue = 270 - i * 9;
    const p = mk('polyline', {points: ptsStr(pts), fill: 'none', stroke: `hsl(${hue},100%,${hue > 200 && hue < 250 ? 48 : 46}%)`, 'stroke-width': 2.2, 'stroke-linejoin': 'round'}, g);
    
    
  });
  const ax = $('f-axes');
  const fr = mk('rect', {x: X0, y: YT, width: X1 - X0, height: YB - YT, fill: 'none', stroke: '#111', 'stroke-width': 2}, ax);
  
  
  for (let E = 10; E <= 30; E += 1.666) {
    const l = mk('line', {x1: xF(E), y1: YB, x2: xF(E), y2: YB + 5, stroke: '#111', 'stroke-width': 1.3}, ax);
    
    
  }
  fXTicks.forEach(v => {
    const l = mk('line', {x1: xF(v), y1: YB, x2: xF(v), y2: YB + 9, stroke: '#111', 'stroke-width': 1.6}, ax);
    
    
    const t = mk('text', {x: xF(v), y: 761, 'font-size': 21, 'text-anchor': 'middle'}, ax);
    t.textContent = v;
    
    
  });
  fYTicks.forEach(v => {
    const l = mk('line', {x1: X0 - 7, y1: yF(v), x2: X0, y2: yF(v), stroke: '#111', 'stroke-width': 1.6}, ax);
    
    
    const t = mk('text', {x: 1097, y: yF(v) + 7, 'font-size': 21, 'text-anchor': 'end'}, ax);
    t.textContent = v;
    
    
  });
})();

// ================= PANEL G =================
(function () {
  const L0 = 181.3, L1 = 690.8, YB = 1171.2, YT = 819;
  const xL = th => L0 + th * (L1 - L0) / 360;
  const yL = v => YB - v * 2.564;
  const g = $('g-left');
  [60, 120, 180, 240, 300].forEach(v => {
    const l = mk('line', {x1: xL(v), y1: YT, x2: xL(v), y2: YB, stroke: '#f0960a', 'stroke-width': 1.4}, g);
    
    
  });
  const series = [[gL10K, '#f01a78'], [gL7K, '#e83ae8'], [gL4K, '#8a22f0'], [gL3K, '#0ae8f0'], [gL25K, '#1010f0'], [gL22K, '#14149a'], [gL2K, '#14148a']];
  const labY = [844, 863, 883, 910, 960, 1106, 1173];
  const labC = ['#f01a78', '#e83ae8', '#8a22f0', '#0ae8f0', '#1010f0', '#1a2ae0', '#14148a'];
  series.forEach((s, i) => {
    const p = mk('path', {d: smooth(gAngles.map((a, j) => [xL(a), yL(s[0][j])])), fill: 'none', stroke: s[1], 'stroke-width': 5, 'stroke-linecap': 'round'}, g);
    
    
    const t = mk('text', {x: 699, y: labY[i], 'font-size': 21, fill: labC[i]}, g);
    t.textContent = gLTempLabels[i];
    
    
  });
  let fr = mk('rect', {x: L0, y: YT, width: L1 - L0, height: YB - YT, fill: 'none', stroke: '#111', 'stroke-width': 2}, g);
  
  
  gLYTicks.forEach(v => {
    const l = mk('line', {x1: L0, y1: yL(v), x2: L0 + 7, y2: yL(v), stroke: '#111', 'stroke-width': 1.6}, g);
    
    
    const m = mk('line', {x1: L0, y1: yL(v + 15), x2: L0 + 4, y2: yL(v + 15), stroke: '#111', 'stroke-width': 1.2}, g);
    
    
    const t = mk('text', {x: 171, y: yL(v) + 7, 'font-size': 21, 'text-anchor': 'end'}, g);
    t.textContent = v;
    
    
  });
  gXTicks.forEach(v => {
    const l = mk('line', {x1: xL(v), y1: YB, x2: xL(v), y2: YB - 7, stroke: '#111', 'stroke-width': 1.6}, g);
    
    
    if (v < 360) {
      const m = mk('line', {x1: xL(v + 30), y1: YB, x2: xL(v + 30), y2: YB - 4, stroke: '#111', 'stroke-width': 1.2}, g);
      
      
    }
    const t = mk('text', {x: xL(v), y: 1198, 'font-size': 21, 'text-anchor': 'middle'}, g);
    t.textContent = v;
    
    
  });

  const R0 = 905.2, R1 = 1414.2, RT = 819.8, RB = 1171.2, BRK = 937.7;
  const xR = th => R0 + th * (R1 - R0) / 360;
  const yU = v => 869 - (v - 540) * 3.23;
  const yLo = v => 1138.3 - (v - 260) * 3.305;
  const h = $('g-right');
  [60, 120, 180, 240, 300].forEach(v => {
    const l = mk('line', {x1: xR(v), y1: RT, x2: xR(v), y2: RB, stroke: '#f0960a', 'stroke-width': 1.4}, h);
    
    
  });
  const rs = [[gR40K, '#148a14', yU, '40 K', 884], [gR15K, '#f01414', yLo, '15 K', 1006], [gR10K, '#f01a86', yLo, '10 K', 1036], [gR2K, '#14147a', yLo, '2 K', 1061]];
  rs.forEach(s => {
    const p = mk('path', {d: smooth(gAngles.map((a, j) => [xR(a), s[2](s[0][j])])), fill: 'none', stroke: s[1], 'stroke-width': 5, 'stroke-linecap': 'round'}, h);
    
    
    const t = mk('text', {x: 1424, y: s[4], 'font-size': 21, fill: s[1]}, h);
    t.textContent = s[3];
    
    
  });
  const ap = `M${R0},${BRK - 6} L${R0},${RT} L${R1},${RT} L${R1},${BRK - 6} M${R0},${BRK + 6} L${R0},${RB} L${R1},${RB} L${R1},${BRK + 6}`;
  const fr2 = mk('path', {d: ap, fill: 'none', stroke: '#111', 'stroke-width': 2}, h);
  
  
  [R0, R1].forEach(x => {
    [-4, 4].forEach(o => {
      const b = mk('line', {x1: x - 6, y1: BRK + o + 4, x2: x + 6, y2: BRK + o - 4, stroke: '#111', 'stroke-width': 2}, h);
      
      
    });
  });
  gRUpperTicks.forEach(v => {
    const l = mk('line', {x1: R0, y1: yU(v), x2: R0 + 7, y2: yU(v), stroke: '#111', 'stroke-width': 1.6}, h);
    
    
    const m = mk('line', {x1: R0, y1: yU(v + 10), x2: R0 + 4, y2: yU(v + 10), stroke: '#111', 'stroke-width': 1.2}, h);
    
    
    const t = mk('text', {x: 897, y: yU(v) + 7, 'font-size': 21, 'text-anchor': 'end'}, h);
    t.textContent = v;
    
    
  });
  gRLowerTicks.forEach(v => {
    const l = mk('line', {x1: R0, y1: yLo(v), x2: R0 + 7, y2: yLo(v), stroke: '#111', 'stroke-width': 1.6}, h);
    
    
    const m = mk('line', {x1: R0, y1: yLo(v + 10), x2: R0 + 4, y2: yLo(v + 10), stroke: '#111', 'stroke-width': 1.2}, h);
    
    
    const t = mk('text', {x: 897, y: yLo(v) + 7, 'font-size': 21, 'text-anchor': 'end'}, h);
    t.textContent = v;
    
    
  });
  gXTicks.forEach(v => {
    const l = mk('line', {x1: xR(v), y1: RB, x2: xR(v), y2: RB - 7, stroke: '#111', 'stroke-width': 1.6}, h);
    
    
    const t = mk('text', {x: xR(v), y: 1198, 'font-size': 21, 'text-anchor': 'middle'}, h);
    t.textContent = v;
    
    
  });
})();
</script>
</body></html>
